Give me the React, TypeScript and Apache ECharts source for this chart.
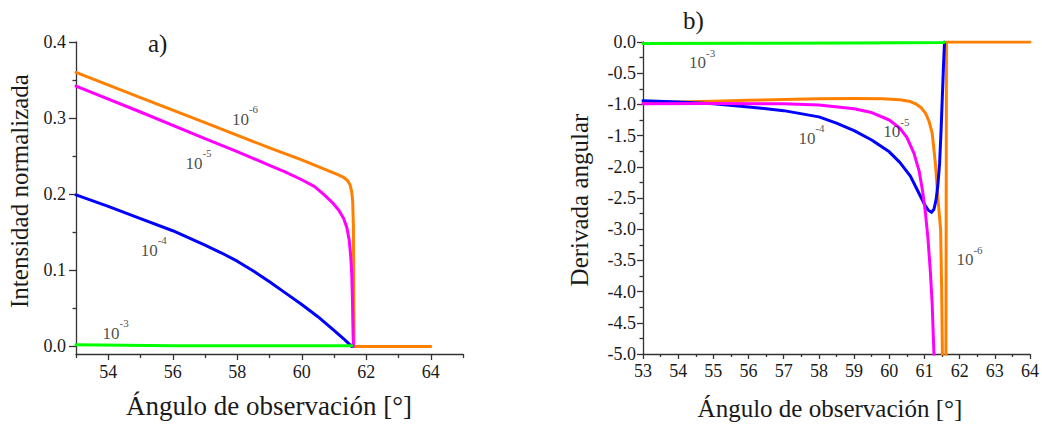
import React, { useEffect, useRef } from "react";
import * as echarts from "echarts";

const FONT = "Liberation Serif";
const AXIS_COLOR = "#333";
const TEXT_COLOR = "#1a1a1a";

// ---------- Panel a): normalized intensity ----------
const aAngle6 = [53, 55, 57, 59, 60, 60.7, 61.1, 61.3, 61.42, 61.5, 61.55, 61.58, 61.6, 61.61, 61.62, 64];
const aInt6 = [0.36, 0.327, 0.294, 0.261, 0.245, 0.233, 0.226, 0.222, 0.218, 0.212, 0.203, 0.19, 0.16, 0.1, 0, 0];

const aAngle5 = [53, 55, 57, 58, 59, 59.5, 60, 60.4, 60.7, 60.95, 61.15, 61.3, 61.4, 61.47, 61.52, 61.55, 61.57, 61.585, 61.6];
const aInt5 = [0.342, 0.308, 0.273, 0.256, 0.238, 0.229, 0.219, 0.21, 0.199, 0.189, 0.179, 0.168, 0.156, 0.14, 0.118, 0.095, 0.065, 0.03, 0];

const aAngle4 = [53, 54, 55, 56, 57, 57.5, 58, 58.5, 59, 59.5, 60, 60.5, 61, 61.3, 61.45, 61.55];
const aInt4 = [0.199, 0.184, 0.168, 0.152, 0.133, 0.123, 0.112, 0.099, 0.085, 0.07, 0.055, 0.039, 0.021, 0.01, 0.004, 0];

const aAngle3 = [53, 56, 59, 61.55];
const aInt3 = [0.002, 0.001, 0.001, 0.001];

const aMajorX = [54, 56, 58, 60, 62, 64];
const aMinorX = [53, 55, 57, 59, 61, 63, 65];
const aMajorY = [0, 0.1, 0.2, 0.3, 0.4];
const aMinorY = [0.05, 0.15, 0.25, 0.35];

// annotation labels (exponent, angle, value)
const aLabelExp = ["-6", "-5", "-4", "-3"];
const aLabelX = [58.24, 56.8, 55.41, 54.23];
const aLabelY = [0.303, 0.245, 0.131, 0.022];

// ---------- Panel b): angular derivative ----------
const bAngle6 = [53, 54, 55, 56, 57, 58, 59, 59.8, 60.3, 60.6, 60.75, 60.9, 61.03, 61.13, 61.22, 61.31, 61.38, 61.46, 61.49, 61.51, 61.53, 61.555, 61.6, 61.61, 61.62, 61.625, 64];
const bDer6 = [-0.97, -0.96, -0.95, -0.935, -0.92, -0.91, -0.905, -0.91, -0.925, -0.955, -0.99, -1.05, -1.14, -1.27, -1.46, -1.94, -2.48, -3.01, -4.0, -5.0, -6, -60, -6, -5, -2, 0, 0];

const bAngle5 = [53, 55, 57, 58, 59, 59.5, 60, 60.3, 60.5, 60.7, 60.85, 60.95, 61.03, 61.1, 61.17, 61.22, 61.27, 61.3, 61.35];
const bDer5 = [-0.99, -0.985, -0.99, -1.01, -1.07, -1.13, -1.25, -1.38, -1.53, -1.78, -2.07, -2.4, -2.75, -3.15, -3.7, -4.2, -5.0, -5.6, -8];

const bAngle4 = [53, 54, 55, 56, 57, 58, 58.5, 59, 59.5, 60, 60.3, 60.6, 60.84, 61.0, 61.1, 61.2, 61.27, 61.33, 61.38, 61.43, 61.47, 61.51, 61.54, 61.57];
const bDer4 = [-0.94, -0.96, -0.99, -1.04, -1.1, -1.2, -1.3, -1.42, -1.57, -1.76, -1.93, -2.15, -2.42, -2.6, -2.69, -2.73, -2.68, -2.53, -2.3, -1.95, -1.45, -0.85, -0.4, 0];

const bAngle3 = [53, 56, 59, 61.55, 61.57];
const bDer3 = [-0.025, -0.02, -0.015, -0.01, 0];

const bLabelExp = ["-3", "-4", "-5", "-6"];
const bLabelX = [54.68, 57.79, 60.2, 62.28];
const bLabelY = [-0.276, -1.49, -1.38, -3.43];

const ORANGE = "#FF8000";
const MAGENTA = "#FF00FF";
const BLUE = "#0000FF";
const GREEN = "#00FF00";

function zip(xs: number[], ys: number[]) {
  return xs.map((x, i) => [x, ys[i]]);
}

function lineSeries(xs: number[], ys: number[], color: string, gi: number, z: number) {
  return {
    type: "line",
    xAxisIndex: gi === 0 ? 0 : 2,
    yAxisIndex: gi === 0 ? 0 : 2,
    data: zip(xs, ys),
    showSymbol: false,
    symbol: "none",
    lineStyle: { color, width: 3, join: "round", cap: "round" },
    itemStyle: { color },
    clip: true,
    z,
    silent: true,
  };
}

const rich = {
  n: { fontSize: 17, fontFamily: FONT, color: TEXT_COLOR, lineHeight: 24, verticalAlign: "bottom" },
  e: { fontSize: 11, fontFamily: FONT, color: TEXT_COLOR, verticalAlign: "top" },
};

function labelSeries(exps: string[], xs: number[], ys: number[], gi: number) {
  return {
    type: "scatter",
    xAxisIndex: gi === 0 ? 0 : 2,
    yAxisIndex: gi === 0 ? 0 : 2,
    data: xs.map((x, i) => [x, ys[i], exps[i]]),
    symbolSize: 0,
    silent: true,
    z: 10,
    label: {
      show: true,
      position: "inside",
      formatter: (p: any) => `{n|10}{e|${p.data[2]}}`,
      rich,
    },
  };
}

const tickLine = { color: AXIS_COLOR, width: 1.3 };

function buildOption() {
  return {
    animation: false,
    backgroundColor: "#fff",
    textStyle: { fontFamily: FONT },
    grid: [
      { left: 76, top: 42, width: 387, height: 312, containLabel: false },
      { left: 643, top: 42, width: 388, height: 312, containLabel: false },
    ],
    xAxis: [
      {
        gridIndex: 0,
        type: "value",
        position: "bottom",
        min: 53,
        max: 65,
        axisLine: { show: true, onZero: false, lineStyle: tickLine },
        axisTick: { show: true, customValues: aMajorX, length: 6, lineStyle: tickLine },
        axisLabel: {
          customValues: aMajorX,
          fontSize: 18,
          fontFamily: FONT,
          color: TEXT_COLOR,
          margin: 9,
        },
        splitLine: { show: false },
      },
      {
        gridIndex: 0,
        type: "value",
        position: "bottom",
        min: 53,
        max: 65,
        axisLine: { show: false, onZero: false },
        axisTick: { show: true, customValues: aMinorX, length: 4, lineStyle: tickLine },
        axisLabel: { show: false },
        splitLine: { show: false },
      },
      {
        gridIndex: 1,
        type: "value",
        position: "bottom",
        min: 53,
        max: 64,
        interval: 1,
        axisLine: { show: true, onZero: false, lineStyle: tickLine },
        axisTick: { show: true, length: 5, lineStyle: tickLine },
        minorTick: { show: true, splitNumber: 2, length: 3, lineStyle: tickLine },
        axisLabel: { fontSize: 18, fontFamily: FONT, color: TEXT_COLOR, margin: 8 },
        splitLine: { show: false },
      },
    ],
    yAxis: [
      {
        gridIndex: 0,
        type: "value",
        position: "left",
        min: -0.01,
        max: 0.4,
        axisLine: { show: true, onZero: false, lineStyle: tickLine },
        axisTick: { show: true, customValues: aMajorY, length: 7, lineStyle: tickLine },
        axisLabel: {
          customValues: aMajorY,
          fontSize: 18,
          fontFamily: FONT,
          color: TEXT_COLOR,
          margin: 10,
          formatter: (v: number) => v.toFixed(1),
        },
        splitLine: { show: false },
      },
      {
        gridIndex: 0,
        type: "value",
        position: "left",
        min: -0.01,
        max: 0.4,
        axisLine: { show: false, onZero: false },
        axisTick: { show: true, customValues: aMinorY, length: 3.5, lineStyle: tickLine },
        axisLabel: { show: false },
        splitLine: { show: false },
      },
      {
        gridIndex: 1,
        type: "value",
        position: "left",
        min: -5,
        max: 0,
        interval: 0.5,
        axisLine: { show: true, onZero: false, lineStyle: tickLine },
        axisTick: { show: true, length: 6, lineStyle: tickLine },
        minorTick: { show: true, splitNumber: 2, length: 3.5, lineStyle: tickLine },
        axisLabel: {
          fontSize: 18,
          fontFamily: FONT,
          color: TEXT_COLOR,
          margin: 7,
          formatter: (v: number) => v.toFixed(1),
        },
        splitLine: { show: false },
      },
    ],
    series: [
      lineSeries(aAngle6, aInt6, ORANGE, 0, 2),
      lineSeries(aAngle5, aInt5, MAGENTA, 0, 3),
      lineSeries(aAngle4, aInt4, BLUE, 0, 4),
      lineSeries(aAngle3, aInt3, GREEN, 0, 5),
      labelSeries(aLabelExp, aLabelX, aLabelY, 0),
      lineSeries(bAngle6, bDer6, ORANGE, 1, 2),
      lineSeries(bAngle4, bDer4, BLUE, 1, 3),
      lineSeries(bAngle5, bDer5, MAGENTA, 1, 4),
      lineSeries(bAngle3, bDer3, GREEN, 1, 5),
      labelSeries(bLabelExp, bLabelX, bLabelY, 1),
    ],
    graphic: [
      {
        type: "text",
        x: 148,
        y: 43,
        style: { text: "a)", fontSize: 25, fontFamily: FONT, fill: TEXT_COLOR, verticalAlign: "middle", align: "left" },
      },
      {
        type: "text",
        x: 683,
        y: 20,
        style: { text: "b)", fontSize: 25, fontFamily: FONT, fill: TEXT_COLOR, verticalAlign: "middle", align: "left" },
      },
      {
        type: "text",
        x: 19,
        y: 191,
        rotation: Math.PI / 2,
        style: {
          text: "Intensidad normalizada",
          fontSize: 25,
          fontFamily: FONT,
          fill: TEXT_COLOR,
          align: "center",
          verticalAlign: "middle",
        },
      },
      {
        type: "text",
        x: 579,
        y: 200,
        rotation: Math.PI / 2,
        style: {
          text: "Derivada angular",
          fontSize: 25,
          fontFamily: FONT,
          fill: TEXT_COLOR,
          align: "center",
          verticalAlign: "middle",
        },
      },
      {
        type: "text",
        x: 269,
        y: 406,
        style: {
          text: "Ángulo de observación [°]",
          fontSize: 27,
          fontFamily: FONT,
          fill: TEXT_COLOR,
          align: "center",
          verticalAlign: "middle",
        },
      },
      {
        type: "text",
        x: 830,
        y: 408,
        style: {
          text: "Ángulo de observación [°]",
          fontSize: 25,
          fontFamily: FONT,
          fill: TEXT_COLOR,
          align: "center",
          verticalAlign: "middle",
        },
      },
    ],
  };
}

export default function App() {
  const ref = useRef<HTMLDivElement>(null);
  useEffect(() => {
    if (!ref.current) return;
    const chart = echarts.init(ref.current, null, { renderer: "svg" });
    chart.setOption(buildOption() as any);
    return () => chart.dispose();
  }, []);
  return (
    <div
      ref={ref}
      style={{ position: "fixed", left: 0, top: 0, width: 1042, height: 429, background: "#fff" }}
    />
  );
}
